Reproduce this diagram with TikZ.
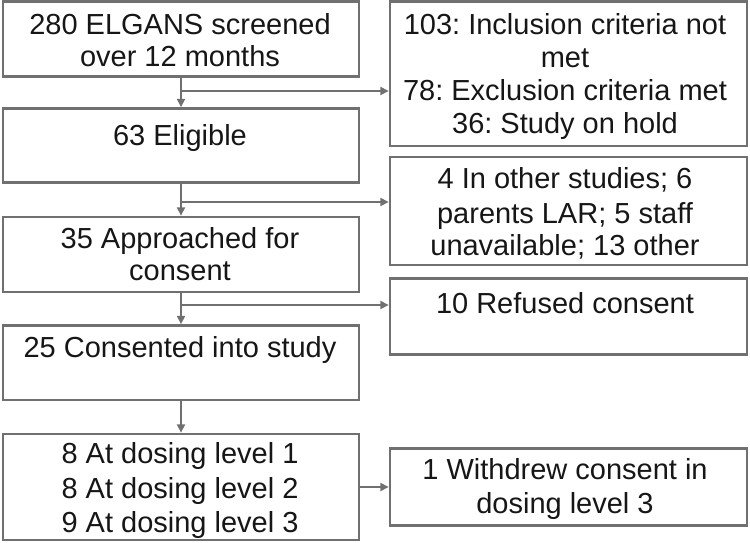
\documentclass[tikz,border=0pt]{standalone}
\usepackage{fontspec}
\setmainfont{Liberation Sans}
\frenchspacing
\usetikzlibrary{arrows.meta}
\definecolor{linegray}{RGB}{112,112,112}
\definecolor{txtcol}{RGB}{22,22,22}
\tikzset{
  box/.style={draw=linegray, line width=2.5pt, inner sep=0pt, fill=white},
  txt/.style={text=txtcol, font=\fontsize{29}{33}\selectfont, inner sep=0pt, anchor=base},
  arr/.style={draw=linegray, line width=2.1pt, -{Triangle[length=8.5pt,width=8pt]}}
}
\begin{document}
\frenchspacing
\begin{tikzpicture}[x=1pt,y=-1pt]
\useasboundingbox (0,0) rectangle (750,542);
% left boxes
\node[box, minimum width=356pt, minimum height=75pt] (b1) at (181,39) {};
\node[box, minimum width=356pt, minimum height=74pt] (b2) at (181,145.5) {};
\node[box, minimum width=356pt, minimum height=75pt] (b3) at (181,254.5) {};
\node[box, minimum width=356pt, minimum height=74.5pt] (b4) at (181,362.75) {};
\node[box, minimum width=356pt, minimum height=106pt] (b5) at (181,487) {};
% right boxes
\node[box, minimum width=357pt, minimum height=144.5pt] (r1) at (568.5,73.75) {};
\node[box, minimum width=357pt, minimum height=108pt] (r2) at (568.5,211) {};
\node[box, minimum width=357pt, minimum height=76pt] (r3) at (568.5,316.5) {};
\node[box, minimum width=357pt, minimum height=77pt] (r4) at (568.5,487) {};
% texts
\node[txt] (t1a) at (180,34.5) {280 ELGANS screened};
\node[txt] (t1b) at (180,66) {over 12 months};
\node[txt] (t2a) at (180,145) {63 Eligible};
\node[txt] (t3a) at (180,248) {35 Approached for};
\node[txt] (t3b) at (180,280) {consent};
\node[txt] (t4a) at (180,357) {25 Consented into study};
\node[txt] (t5a) at (180,463) {8 At dosing level 1};
\node[txt] (t5b) at (180,498) {8 At dosing level 2};
\node[txt] (t5c) at (180,532) {9 At dosing level 3};
\node[txt] (u1a) at (565,34) {103: Inclusion criteria not};
\node[txt] (u1b) at (565,67) {met};
\node[txt] (u1c) at (565,100) {78: Exclusion criteria met};
\node[txt] (u1d) at (565,133) {36: Study on hold};
\node[txt] (u2a) at (565,188) {4 In other studies; 6};
\node[txt] (u2b) at (565,223) {parents LAR; 5 staff};
\node[txt] (u2c) at (565,255) {unavailable; 13 other};
\node[txt] (u3a) at (565,313) {10 Refused consent};
\node[txt] (u4a) at (565,479) {1 Withdrew consent in};
\node[txt] (u4b) at (565,513) {dosing level 3};
% connectors
\coordinate (j1) at (181,91);
\coordinate (j2) at (181,202);
\coordinate (j3) at (181,305);
\draw[arr] (b1.south) -- (b2.north);
\draw[arr] (b2.south) -- (b3.north);
\draw[arr] (b3.south) -- (b4.north);
\draw[arr] (b4.south) -- (b5.north);
\draw[arr] (j1) -- (j1 -| r1.west);
\draw[arr] (j2) -- (j2 -| r2.west);
\draw[arr] (j3) -- (j3 -| r3.west);
\draw[arr] (b5.east) -- (r4.west);
\end{tikzpicture}
\end{document}
